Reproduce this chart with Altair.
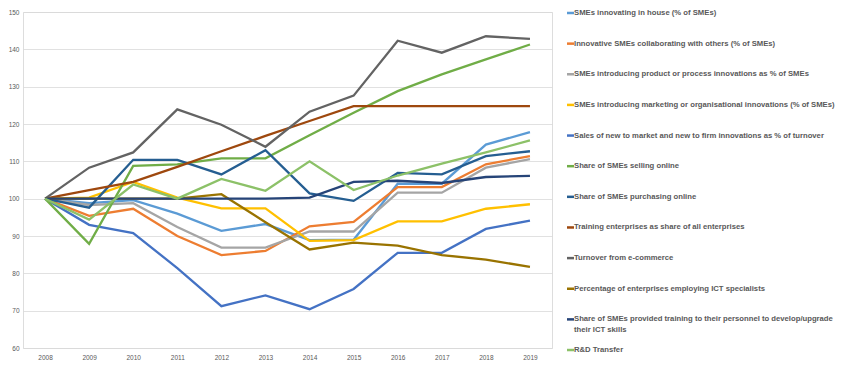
import altair as alt
import pandas as pd

years = [2008, 2009, 2010, 2011, 2012, 2013, 2014, 2015, 2016, 2017, 2018, 2019]

names = [
    "SMEs innovating in house (% of SMEs)",
    "Innovative SMEs collaborating with others (% of SMEs)",
    "SMEs introducing product or process innovations as % of SMEs",
    "SMEs introducing marketing or organisational innovations (% of SMEs)",
    "Sales of new to market and new to firm innovations as % of turnover",
    "Share of SMEs selling online",
    "Share of SMEs purchasing online",
    "Training enterprises as share of all enterprises",
    "Turnover from e-commerce",
    "Percentage of enterprises employing ICT specialists",
    "Share of SMEs provided training to their personnel to develop/upgrade their ICT skills",
    "R&D Transfer",
]
labels = names[:10] + [
    "Share of SMEs provided training to their personnel to develop/upgrade\ntheir ICT skills",
    "R&D Transfer",
]
colors = ["#5B9BD5", "#ED7D31", "#A5A5A5", "#FFC000", "#4472C4", "#70AD47",
          "#255E91", "#9E480E", "#636363", "#997300", "#264478", "#8CC168"]

in_house = [100, 98.8, 99.6, 96, 91.4, 93.2, 88.9, 89, 104, 104, 114.5, 117.8]
collab = [100, 95.4, 97.3, 90, 84.9, 86, 92.6, 93.8, 103.1, 103.1, 109.2, 111.4]
product = [100, 98.3, 98.8, 92.4, 86.9, 86.9, 91.2, 91.2, 101.6, 101.6, 108.3, 110.6]
marketing = [100, 100.3, 104.5, 100.3, 97.4, 97.4, 88.7, 88.9, 93.9, 93.9, 97.3, 98.5]
sales = [100, 93, 90.8, 81.4, 71.2, 74.1, 70.4, 75.8, 85.5, 85.5, 91.9, 94.1]
selling = [100, 87.9, 108.8, 109.2, 110.8, 110.8, 117, 123, 128.8, 133.3, 137.3, 141.3]
purchasing = [100, 97.6, 110.4, 110.4, 106.5, 113, 101.4, 99.4, 106.9, 106.5, 111.4, 112.7]
training = [100, 102.3, 104.5, 108.5, 112.7, 116.8, 120.8, 124.8, 124.8, 124.8, 124.8, 124.8]
turnover = [100, 108.3, 112.4, 123.9, 119.8, 113.9, 123.3, 127.6, 142.3, 139.1, 143.5, 142.8]
ict = [100, 100, 100, 100, 101.2, 93.7, 86.4, 88.2, 87.4, 84.9, 83.7, 81.7]
ict_training = [100, 100, 100, 100, 100, 100, 100.3, 104.5, 104.8, 104.2, 105.8, 106.1]
rd = [100, 94.4, 103.8, 100, 105.3, 102.1, 110, 102.3, 106.2, 109.4, 112.4, 115.6]

series = [in_house, collab, product, marketing, sales, selling, purchasing,
          training, turnover, ict, ict_training, rd]

rows = []
for k, (n, vals) in enumerate(zip(names, series)):
    for y, v in zip(years, vals):
        rows.append({"series": n, "order": k, "year": str(y), "value": v})
df = pd.DataFrame(rows)

leg = pd.DataFrame({"series": names, "label": labels, "idx": list(range(len(names)))})

color_scale = alt.Scale(domain=names, range=colors)

lines = alt.Chart(df).mark_line(strokeWidth=2.3).encode(
    x=alt.X("year:O", scale=alt.Scale(type="point", padding=0.5),
            axis=alt.Axis(title=None, labelAngle=0, ticks=False, domain=False,
                          labelPadding=6, labelFontSize=6.5, labelColor="#595959",
                          labelFont="Liberation Sans")),
    y=alt.Y("value:Q", scale=alt.Scale(domain=[60, 150], nice=False),
            axis=alt.Axis(title=None, values=list(range(60, 151, 10)), ticks=False,
                          domain=False, labelPadding=4, labelFontSize=6.5,
                          labelColor="#595959", labelFont="Liberation Sans",
                          gridColor="#D9D9D9", gridWidth=0.8)),
    color=alt.Color("series:N", scale=color_scale, legend=None),
    order=alt.Order("order:Q"),
)

leg_y = alt.Y("idx:Q", scale=alt.Scale(domain=[-0.0326, 10.934], reverse=True, nice=False, zero=False), axis=None)

leg_sym = alt.Chart(leg).mark_rule(strokeWidth=2.5).encode(
    x=alt.value(544), x2=alt.value(551), y=leg_y,
    color=alt.Color("series:N", scale=color_scale, legend=None),
)
leg_txt = alt.Chart(leg).mark_text(
    align="left", baseline="top", dy=-4, lineBreak="\n", lineHeight=11,
    fontSize=7.7, fontWeight="bold", font="Liberation Sans", color="#595959",
).encode(
    x=alt.value(551), y=leg_y, text="label:N",
)

chart = alt.layer(lines, leg_sym, leg_txt).resolve_scale(y="independent").properties(
    width=529, height=336,
    autosize=alt.AutoSizeParams(type="none"),
    padding={"left": 15, "top": 4, "right": 290, "bottom": 15},
).configure_view(stroke=None).configure(background="white")

chart.save("out.html", embed_options={"renderer": "svg", "actions": False})
